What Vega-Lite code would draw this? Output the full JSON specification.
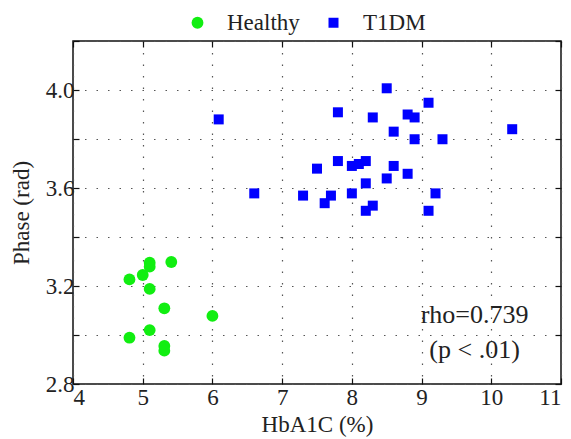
{
  "$schema": "https://vega.github.io/schema/vega-lite/v6.json",
  "width": 488,
  "height": 343,
  "autosize": {"type": "none"},
  "padding": {"left": 73, "top": 41, "right": 10, "bottom": 55},
  "background": "white",
  "config": {
    "font": "Liberation Serif",
    "view": {"stroke": "#111", "strokeWidth": 1.5},
    "axis": {
      "labelFont": "Liberation Serif",
      "titleFont": "Liberation Serif",
      "labelFontSize": 23,
      "titleFontSize": 23,
      "labelColor": "#222",
      "titleColor": "#222",
      "titleFontWeight": "normal",
      "domain": false,
      "tickColor": "#111",
      "tickSize": -6,
      "tickWidth": 1.2,
      "gridColor": "#555",
      "gridDash": [1.5, 10],
      "gridWidth": 1.2,
      "gridOpacity": 1
    },
    "legend": {
      "labelFont": "Liberation Serif",
      "labelFontSize": 23,
      "labelColor": "#222"
    }
  },
  "datasets": {
    "pts": [
      {"group": "Healthy", "hba1c": 4.81, "phase": 3.227},
      {"group": "Healthy", "hba1c": 5.0, "phase": 3.245},
      {"group": "Healthy", "hba1c": 5.1, "phase": 3.295},
      {"group": "Healthy", "hba1c": 5.1, "phase": 3.279},
      {"group": "Healthy", "hba1c": 5.41, "phase": 3.298},
      {"group": "Healthy", "hba1c": 5.1, "phase": 3.188},
      {"group": "Healthy", "hba1c": 5.31, "phase": 3.109},
      {"group": "Healthy", "hba1c": 6.0, "phase": 3.078},
      {"group": "Healthy", "hba1c": 5.1, "phase": 3.02},
      {"group": "Healthy", "hba1c": 4.81, "phase": 2.989},
      {"group": "Healthy", "hba1c": 5.31, "phase": 2.955},
      {"group": "Healthy", "hba1c": 5.31, "phase": 2.936},
      {"group": "T1DM", "hba1c": 6.09, "phase": 3.88},
      {"group": "T1DM", "hba1c": 6.6, "phase": 3.578},
      {"group": "T1DM", "hba1c": 7.3, "phase": 3.569},
      {"group": "T1DM", "hba1c": 7.5, "phase": 3.679},
      {"group": "T1DM", "hba1c": 7.61, "phase": 3.538},
      {"group": "T1DM", "hba1c": 7.7, "phase": 3.569},
      {"group": "T1DM", "hba1c": 7.8, "phase": 3.909},
      {"group": "T1DM", "hba1c": 7.8, "phase": 3.71},
      {"group": "T1DM", "hba1c": 8.0, "phase": 3.69},
      {"group": "T1DM", "hba1c": 8.0, "phase": 3.578},
      {"group": "T1DM", "hba1c": 8.1, "phase": 3.698},
      {"group": "T1DM", "hba1c": 8.2, "phase": 3.71},
      {"group": "T1DM", "hba1c": 8.2, "phase": 3.619},
      {"group": "T1DM", "hba1c": 8.2, "phase": 3.507},
      {"group": "T1DM", "hba1c": 8.3, "phase": 3.888},
      {"group": "T1DM", "hba1c": 8.3, "phase": 3.528},
      {"group": "T1DM", "hba1c": 8.5, "phase": 4.007},
      {"group": "T1DM", "hba1c": 8.5, "phase": 3.639},
      {"group": "T1DM", "hba1c": 8.6, "phase": 3.83},
      {"group": "T1DM", "hba1c": 8.6, "phase": 3.69},
      {"group": "T1DM", "hba1c": 8.8, "phase": 3.9},
      {"group": "T1DM", "hba1c": 8.8, "phase": 3.658},
      {"group": "T1DM", "hba1c": 8.9, "phase": 3.888},
      {"group": "T1DM", "hba1c": 8.9, "phase": 3.799},
      {"group": "T1DM", "hba1c": 9.1, "phase": 3.948},
      {"group": "T1DM", "hba1c": 9.1, "phase": 3.507},
      {"group": "T1DM", "hba1c": 9.2, "phase": 3.578},
      {"group": "T1DM", "hba1c": 9.3, "phase": 3.799},
      {"group": "T1DM", "hba1c": 10.3, "phase": 3.84}
    ],
    "notes": [
      {"label": "rho=0.739", "hba1c": 9.76, "phase": 3.082},
      {"label": "(p < .01)", "hba1c": 9.76, "phase": 2.939}
    ]
  },
  "layer": [
    {
      "data": {"name": "pts"},
      "mark": {"type": "point", "filled": true, "opacity": 1},
      "encoding": {
        "x": {
          "field": "hba1c",
          "type": "quantitative",
          "scale": {"domain": [4, 11], "nice": false, "zero": false},
          "axis": {
            "title": "HbA1C (%)",
            "values": [4, 5, 6, 7, 8, 9, 10, 11],
            "format": "d",
            "grid": true,
            "labelPadding": 8,
            "titlePadding": 4
          }
        },
        "y": {
          "field": "phase",
          "type": "quantitative",
          "scale": {"domain": [2.8, 4.2], "nice": false, "zero": false},
          "axis": {
            "title": "Phase (rad)",
            "values": [2.8, 3.0, 3.2, 3.4, 3.6, 3.8, 4.0, 4.2],
            "format": ".1f",
            "labelExpr": "(datum.label == '2.8' || datum.label == '3.2' || datum.label == '3.6' || datum.label == '4.0') ? datum.label : ''",
            "grid": true,
            "labelPadding": 5,
            "titlePadding": 12
          }
        },
        "color": {
          "field": "group",
          "type": "nominal",
          "scale": {"domain": ["Healthy", "T1DM"], "range": ["#11ee11", "#0000ff"]},
          "legend": {
            "title": null,
            "orient": "none",
            "direction": "horizontal",
            "legendX": 113,
            "legendY": -30,
            "columnPadding": 22,
            "labelOffset": 18,
            "symbolStrokeWidth": 0
          }
        },
        "shape": {
          "field": "group",
          "type": "nominal",
          "scale": {"domain": ["Healthy", "T1DM"], "range": ["circle", "square"]}
        },
        "size": {
          "field": "group",
          "type": "nominal",
          "scale": {"domain": ["Healthy", "T1DM"], "range": [140, 100]}
        }
      }
    },
    {
      "data": {"name": "notes"},
      "mark": {"type": "text", "font": "Liberation Serif", "fontSize": 26, "color": "#222", "align": "center", "baseline": "middle"},
      "encoding": {
        "x": {
          "field": "hba1c",
          "type": "quantitative",
          "scale": {"domain": [4, 11], "nice": false, "zero": false},
          "axis": {
            "orient": "top",
            "title": null,
            "values": [4, 5, 6, 7, 8, 9, 10, 11],
            "labels": false,
            "grid": false
          }
        },
        "y": {
          "field": "phase",
          "type": "quantitative",
          "scale": {"domain": [2.8, 4.2], "nice": false, "zero": false},
          "axis": {
            "orient": "right",
            "title": null,
            "values": [2.8, 3.0, 3.2, 3.4, 3.6, 3.8, 4.0, 4.2],
            "labels": false,
            "grid": false
          }
        },
        "text": {"field": "label"}
      }
    }
  ],
  "resolve": {"axis": {"x": "independent", "y": "independent"}}
}
